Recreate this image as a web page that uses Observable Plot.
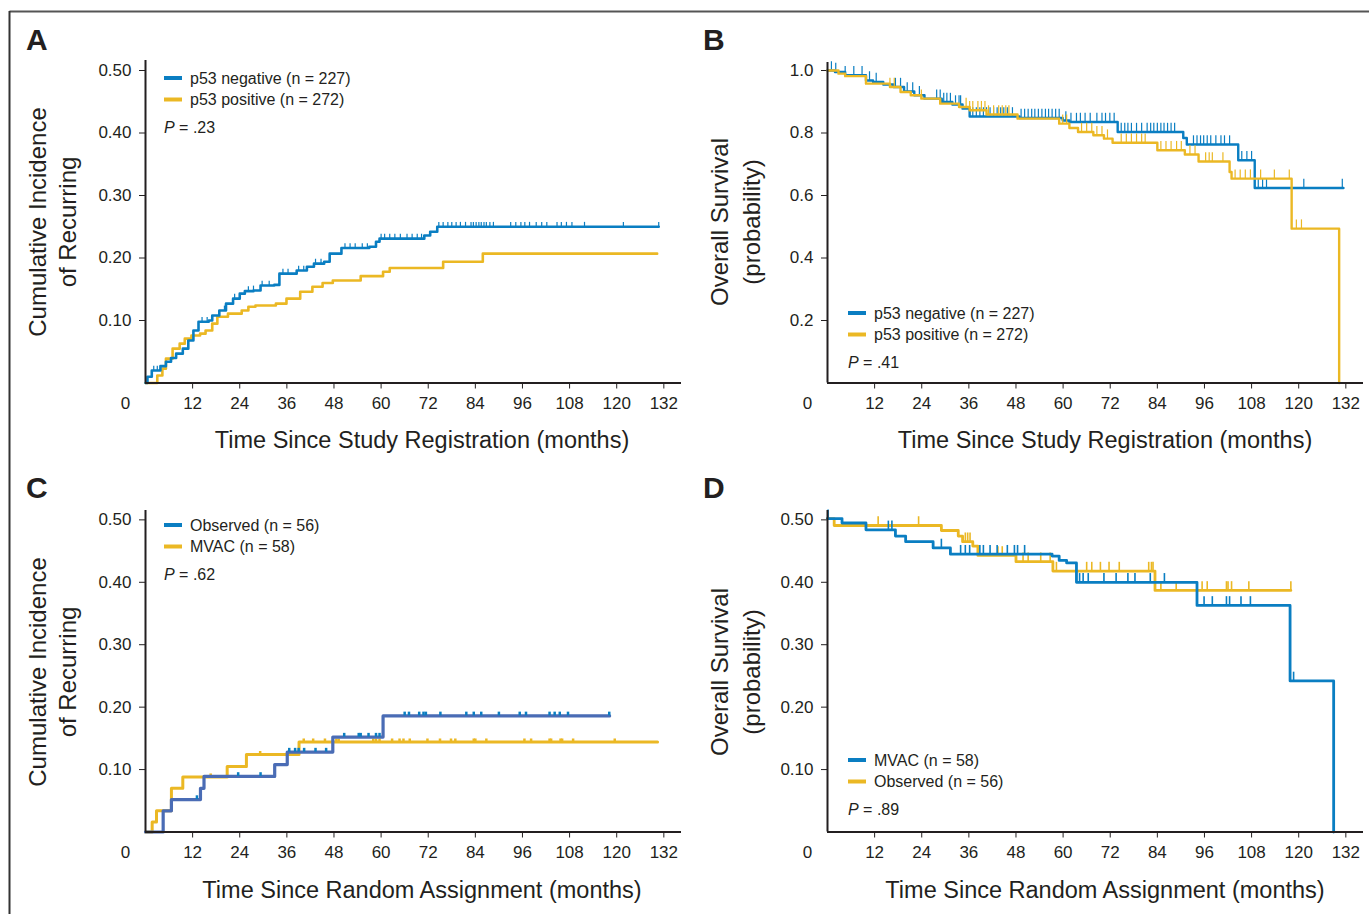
<!DOCTYPE html>
<html><head><meta charset="utf-8">
<script src="https://cdn.jsdelivr.net/npm/d3@7"></script>
<script src="https://cdn.jsdelivr.net/npm/@observablehq/plot@0.6"></script>
<style>
body{margin:0;background:#fff;}
#fig{position:relative;width:1369px;height:914px;overflow:hidden;background:#fff;}
</style></head>
<body><div id="fig"></div>
<script>
// ---------- data ----------
const xTicks = [12,24,36,48,60,72,84,96,108,120,132];
const yTicksInc = [0.1,0.2,0.3,0.4,0.5];
const yTicksOS = [0.2,0.4,0.6,0.8,1.0];

// Panel A: cumulative incidence of recurrence by p53
const aNegT = [0,0.5,1.6,3.8,5.2,6.5,7.8,9.5,10.9,12.2,13.5,16.1,17.0,18.8,20.5,22.3,24.0,25.3,27.5,29.3,32.8,34.1,38.5,41.1,42.9,45.5,46.9,49.9,57.0,58.7,59.6,71.0,72.5,74.3,130.7];
const aNegV = [0,0.010,0.020,0.027,0.034,0.040,0.047,0.055,0.068,0.084,0.098,0.100,0.108,0.116,0.127,0.135,0.143,0.147,0.148,0.156,0.157,0.175,0.180,0.186,0.191,0.194,0.207,0.216,0.218,0.226,0.231,0.236,0.242,0.250,0.250];
const aPosT = [0,3.0,4.3,5.2,6.9,8.7,10.0,11.7,13.9,15.3,17.0,18.3,21.0,24.5,26.2,28.0,33.2,35.9,39.4,42.5,45.1,47.7,54.8,60.5,62.2,75.8,85.9,130.3];
const aPosV = [0,0.012,0.023,0.039,0.055,0.063,0.071,0.076,0.079,0.084,0.095,0.106,0.111,0.116,0.122,0.124,0.127,0.135,0.146,0.154,0.160,0.164,0.171,0.178,0.184,0.194,0.207,0.207];
const aNegCens = [2.1,3.0,14.4,15.7,20.1,22.7,26.2,27.5,29.7,31.5,35.0,36.3,39.0,40.3,43.3,44.7,50.8,52.1,53.4,55.2,56.5,60.0,60.9,62.2,63.5,64.9,66.6,67.9,69.2,70.3,74.7,75.8,77.0,78.0,79.1,80.2,81.5,82.9,83.5,84.2,84.9,85.5,86.2,86.8,87.7,88.6,93.0,94.3,95.6,96.6,97.8,99.5,100.9,102.2,104.8,105.9,107.2,108.6,111.8,121.7,130.7];

// Panel B: overall survival by p53
const bNegT = [0,1.9,4.5,9.8,11.6,14.2,16.8,19.5,22.1,24.7,29.1,31.8,34.4,36.2,48.9,59.9,61.6,73.9,90.6,91.5,104.6,108.8,131.4];
const bNegV = [1.0,0.995,0.985,0.968,0.963,0.955,0.947,0.933,0.921,0.910,0.899,0.891,0.878,0.853,0.848,0.840,0.835,0.803,0.784,0.763,0.713,0.624,0.624];
const bPosT = [0,2.8,4.5,9.8,15.9,18.6,21.2,23.9,28.7,33.5,36.2,40.5,48.4,59.0,61.6,63.8,67.7,70.4,72.6,84.0,91.0,94.5,102.4,102.9,118.2,130.3];
const bPosV = [1.0,0.990,0.982,0.958,0.947,0.931,0.921,0.910,0.894,0.883,0.873,0.859,0.846,0.830,0.816,0.803,0.793,0.782,0.769,0.745,0.731,0.709,0.675,0.654,0.494,0];
const bNegCens = [1.0,2.1,4.5,6.7,8.8,10.7,12.4,17.3,18.6,20.3,21.7,23.4,27.8,28.7,29.6,30.4,31.3,32.6,33.5,33.9,37.0,37.9,38.8,39.7,40.5,41.4,42.3,43.2,44.1,44.9,45.8,47.1,49.3,50.2,51.1,52.0,52.8,53.7,54.6,55.5,56.3,57.2,58.1,59.0,60.7,62.0,63.4,64.4,65.6,66.9,68.6,69.9,70.8,71.9,73.0,74.8,75.7,76.5,77.4,78.7,80.0,81.4,82.3,83.1,84.0,84.9,85.7,86.6,87.5,88.4,93.2,94.1,95.0,95.8,96.7,97.6,98.9,100.2,101.1,102.4,105.5,106.8,108.0,109.7,110.8,111.8,121.3,131.1];
const bPosCens = [15.9,17.0,23.9,35.3,36.2,37.0,38.3,39.2,40.1,41.0,42.3,43.6,44.5,45.4,46.2,59.9,60.9,64.7,66.0,67.3,68.6,69.9,71.3,74.8,76.1,77.4,78.7,80.0,80.9,84.9,86.2,87.5,88.9,90.1,92.3,93.6,96.3,97.2,98.0,100.7,103.8,105.1,106.4,107.7,110.3,113.8,117.6,119.4,120.7];

// Panel C: cumulative incidence of recurrence by randomized arm
const cObsT = [0,4.5,6.6,14.0,14.9,32.9,36.1,47.7,60.5,118.2];
const cObsV = [0,0.034,0.052,0.070,0.089,0.108,0.128,0.152,0.186,0.186];
const cMvacT = [0,1.7,2.8,6.6,9.5,20.8,25.7,39.1,130.4];
const cMvacV = [0,0.016,0.034,0.070,0.088,0.105,0.124,0.144,0.144];
const cObsCens = [13.1,23.6,29.3,36.6,38.1,39.0,40.4,43.3,46.0,50.6,54.3,54.8,56.8,58.7,59.6,66.0,67.1,69.7,70.8,71.4,75.1,81.7,83.6,85.5,90.0,95.3,96.9,102.9,104.2,105.5,107.6,118.1];
const cMvacCens = [16.6,29.2,40.3,42.7,45.7,48.6,49.2,58.0,58.7,59.6,62.8,64.7,65.7,67.3,71.8,75.0,77.8,78.9,83.6,84.0,86.8,96.5,98.2,102.9,103.3,105.7,106.1,108.9,119.5];

// Panel D: overall survival by randomized arm
const dMvacT = [0,3.7,9.8,17.3,19.9,26.9,31.3,57.2,59.0,60.9,63.4,94.1,117.8,128.9];
const dMvacV = [0.502,0.495,0.484,0.474,0.465,0.455,0.445,0.442,0.435,0.431,0.400,0.363,0.242,0];
const dObsT = [0,1.7,29.0,33.3,34.4,37.0,38.3,48.0,57.4,83.4,118.0];
const dObsV = [0.502,0.491,0.483,0.474,0.465,0.458,0.443,0.433,0.418,0.387,0.387];
const dMvacCens = [0.15,15.5,16.4,29.0,33.9,35.1,36.2,38.8,39.7,41.4,43.2,45.8,47.6,48.4,50.2,64.2,65.1,66.4,70.4,73.5,76.5,78.3,82.2,85.8,95.9,98.0,101.6,102.4,105.3,107.7,118.7];
const dObsCens = [12.9,23.2,35.1,35.7,36.3,43.4,44.5,49.8,51.1,54.3,56.7,58.3,66.0,67.3,69.5,71.7,74.3,81.8,82.5,82.9,84.9,88.8,95.4,96.7,101.6,102.0,102.9,107.3,118.0];

// legend texts
const legendA = ["p53 negative (n = 227)","p53 positive (n = 272)"];
const legendB = ["p53 negative (n = 227)","p53 positive (n = 272)"];
const legendC = ["Observed (n = 56)","MVAC (n = 58)"];
const legendD = ["MVAC (n = 58)","Observed (n = 56)"];
const pVals = [".23",".41",".62",".89"];

// ---------- helpers ----------
const BLUE = "#0a7ec2", YEL = "#ebb824", BLUE2 = "#4a6cb5", INK = "#231f20";
const FONT = "'Liberation Sans', Arial, Helvetica, sans-serif";
const fig = document.getElementById("fig");
function stepVal(T,V,t){let v=V[0];for(let i=0;i<T.length;i++){if(T[i]<=t)v=V[i];else break;}return v;}
function series(T,V){return T.map((t,i)=>({t,v:V[i]}));}
function cens(T,V,C,h){return C.map(t=>{const v=stepVal(T,V,t);return {t,v,v2:v+h};});}
function curve(T,V,color,w){return Plot.line(series(T,V),{x:"t",y:"v",curve:"step-after",stroke:color,strokeWidth:w});}
function ticks(T,V,C,h,color,w){return Plot.ruleX(cens(T,V,C,h),{x:"t",y1:"v",y2:"v2",stroke:color,strokeWidth:w});}

function panel(o){
  const p = Plot.plot({
    width:o.w, height:o.h, marginLeft:85, marginRight:o.mr, marginTop:o.mt, marginBottom:o.mb,
    x:{domain:[0,136.5], ticks:xTicks, tickSize:6, tickPadding:8, label:null},
    y:{domain:o.yDomain, ticks:o.yTicks, tickFormat:o.fmt, tickSize:6, tickPadding:8, label:null},
    style:{fontFamily:FONT, fontSize:"17px", color:INK, background:"transparent", overflow:"visible"},
    marks:[
      ...o.marks,
      Plot.ruleX([0],{stroke:INK,strokeWidth:2}),
      Plot.ruleY([0],{stroke:INK,strokeWidth:2}),
      Plot.text(["0"],{frameAnchor:"bottom-left",dx:-20,dy:20.5,textAnchor:"middle",lineAnchor:"middle",fontSize:17,fill:INK})
    ]
  });
  p.style.position="absolute"; p.style.left=o.left+"px"; p.style.top=o.top+"px";
  fig.appendChild(p);
}
const f2 = d3.format(".2f"), f1 = d3.format(".1f");

panel({left:60, top:50, w:640, h:380, mr:19, mt:10, mb:47.5, yDomain:[0,0.516], yTicks:yTicksInc, fmt:f2,
  marks:[curve(aPosT,aPosV,YEL,2.6), curve(aNegT,aNegV,BLUE,2.6), ticks(aNegT,aNegV,aNegCens,0.007,BLUE,1.2)]});
panel({left:742, top:50, w:627, h:380, mr:6, mt:12, mb:47.5, yDomain:[0,1.0256], yTicks:yTicksOS, fmt:f1,
  marks:[curve(bNegT,bNegV,BLUE,2.4), ticks(bNegT,bNegV,bNegCens,0.028,BLUE,1.2),
         curve(bPosT,bPosV,YEL,2.4), ticks(bPosT,bPosV,bPosCens,0.028,YEL,1.2)]});
panel({left:60, top:500, w:640, h:380, mr:19, mt:10, mb:48.5, yDomain:[0,0.515], yTicks:yTicksInc, fmt:f2,
  marks:[curve(cMvacT,cMvacV,YEL,3), ticks(cMvacT,cMvacV,cMvacCens,0.005,YEL,2.5),
         curve(cObsT,cObsV,BLUE2,3.2), ticks(cObsT,cObsV,cObsCens,0.006,BLUE,2.5)]});
panel({left:742, top:500, w:627, h:380, mr:6, mt:10, mb:48.5, yDomain:[0,0.515], yTicks:yTicksInc, fmt:f2,
  marks:[curve(dObsT,dObsV,YEL,2.8), ticks(dObsT,dObsV,dObsCens,0.014,YEL,1.6),
         curve(dMvacT,dMvacV,BLUE,2.8), ticks(dMvacT,dMvacV,dMvacCens,0.014,BLUE,1.6)]});

// ---------- overlay text ----------
function legend(x,y,labels,colors,p){
  let s="";
  labels.forEach((l,i)=>{
    const yy=y+i*21.5;
    s+=`<line x1="${x}" x2="${x+18}" y1="${yy}" y2="${yy}" stroke="${colors[i]}" stroke-width="4"/>`;
    s+=`<text x="${x+26}" y="${yy}" dy="0.35em" font-size="16">${l}</text>`;
  });
  s+=`<text x="${x}" y="${y+49}" dy="0.35em" font-size="16"><tspan font-style="italic">P</tspan> = ${p}</text>`;
  return s;
}
function ytitle(x1,x2,yc,l1,l2){
  return `<text transform="translate(${x1},${yc}) rotate(-90)" text-anchor="middle" dy="0.35em" font-size="24">${l1}</text>`+
         `<text transform="translate(${x2},${yc}) rotate(-90)" text-anchor="middle" dy="0.35em" font-size="24">${l2}</text>`;
}
let ov = `<svg xmlns="http://www.w3.org/2000/svg" width="1369" height="914" style="position:absolute;left:0;top:0;pointer-events:none" font-family="${FONT.replace(/'/g,"")}" fill="${INK}">`;
ov += `<line x1="9.5" y1="11.5" x2="1369" y2="11.5" stroke="#555" stroke-width="2"/><line x1="9.5" y1="11" x2="9.5" y2="914" stroke="#333" stroke-width="2"/>`;
ov += `<g font-size="30" font-weight="bold"><text x="26" y="50">A</text><text x="703" y="50">B</text><text x="26" y="498">C</text><text x="703" y="498">D</text></g>`;
ov += `<g font-size="23.5" text-anchor="middle"><text x="422" y="440" dy="0.35em">Time Since Study Registration (months)</text><text x="1105" y="440" dy="0.35em">Time Since Study Registration (months)</text><text x="422" y="890" dy="0.35em">Time Since Random Assignment (months)</text><text x="1105" y="890" dy="0.35em">Time Since Random Assignment (months)</text></g>`;
ov += ytitle(38,68,222,"Cumulative Incidence","of Recurring");
ov += ytitle(720,752,222,"Overall Survival","(probability)");
ov += ytitle(38,68,672,"Cumulative Incidence","of Recurring");
ov += ytitle(720,752,672,"Overall Survival","(probability)");
ov += legend(164,78,legendA,[BLUE,YEL],pVals[0]);
ov += legend(848,313,legendB,[BLUE,YEL],pVals[1]);
ov += legend(164,525,legendC,[BLUE,YEL],pVals[2]);
ov += legend(848,760,legendD,[BLUE,YEL],pVals[3]);
ov += `</svg>`;
fig.insertAdjacentHTML("beforeend", ov);
</script>
</body></html>
